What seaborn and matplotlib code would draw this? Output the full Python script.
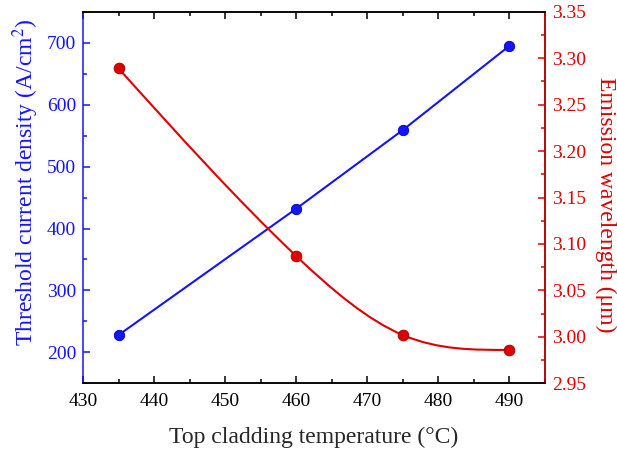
import numpy as np
import pandas as pd
import matplotlib
matplotlib.use("Agg")
import matplotlib.pyplot as plt
from matplotlib.path import Path
from matplotlib.patches import PathPatch
from matplotlib.ticker import MultipleLocator, FormatStrFormatter
import seaborn as sns

# data
temperature = [435, 460, 475, 490]
threshold_density = [228, 432, 559, 695]
wavelength = [3.289, 3.087, 3.002, 2.986]

BLUE = "#1414ff"
RED = "#e00000"


def spline_path(xs, ys):
    # natural cubic spline connector, drawn as bezier segments
    x = np.asarray(xs, float)
    y = np.asarray(ys, float)
    n = len(x)
    h = np.diff(x)
    d = np.diff(y) / h
    A = np.zeros((n, n))
    b = np.zeros(n)
    A[0, 0] = A[-1, -1] = 1.0
    for i in range(1, n - 1):
        A[i, i - 1] = h[i - 1]
        A[i, i] = 2 * (h[i - 1] + h[i])
        A[i, i + 1] = h[i]
        b[i] = 6 * (d[i] - d[i - 1])
    M = np.linalg.solve(A, b)
    slope = np.empty(n)
    slope[:-1] = d - h * (2 * M[:-1] + M[1:]) / 6
    slope[-1] = d[-1] + h[-1] * (M[-2] + 2 * M[-1]) / 6
    verts = [(x[0], y[0])]
    codes = [Path.MOVETO]
    for i in range(n - 1):
        k = h[i] / 3
        verts += [(x[i] + k, y[i] + k * slope[i]),
                  (x[i + 1] - k, y[i + 1] - k * slope[i + 1]),
                  (x[i + 1], y[i + 1])]
        codes += [Path.CURVE4] * 3
    return Path(verts, codes)


sns.set_theme(style="ticks")
plt.rcParams["font.family"] = ["Liberation Serif", "DejaVu Serif"]
plt.rcParams["mathtext.fontset"] = "stix"

df = pd.DataFrame({"T": temperature, "J": threshold_density, "L": wavelength})

fig = plt.figure(figsize=(6.17, 4.51), dpi=100)
ax = fig.add_axes([0.1345, 0.150, 0.7488, 0.824])
ax2 = ax.twinx()

sns.lineplot(data=df, x="T", y="J", ax=ax, color=BLUE, lw=1.5,
             marker="o", markersize=7.5, markeredgecolor="#0000b0",
             markeredgewidth=0.6)

ax2.add_patch(PathPatch(spline_path(df["T"], df["L"]), fill=False,
                        edgecolor=RED, lw=1.5))
sns.scatterplot(data=df, x="T", y="L", ax=ax2, color=RED, s=60,
                edgecolor="#a00000", linewidth=0.6, zorder=3)

ax.set_xlim(430, 495)
ax.set_ylim(150, 750)
ax2.set_ylim(2.95, 3.35)

ax.xaxis.set_major_locator(MultipleLocator(10))
ax.xaxis.set_minor_locator(MultipleLocator(5))
ax.yaxis.set_major_locator(MultipleLocator(100))
ax.yaxis.set_minor_locator(MultipleLocator(50))
ax2.yaxis.set_major_locator(MultipleLocator(0.05))
ax2.yaxis.set_minor_locator(MultipleLocator(0.025))
ax2.yaxis.set_major_formatter(FormatStrFormatter("%.2f"))

ax.tick_params(axis="x", which="both", direction="in", top=True,
               colors="black", labelsize=14, width=1.1, pad=7)
ax.tick_params(axis="x", which="major", length=5)
ax.tick_params(axis="x", which="minor", length=3)
ax.tick_params(axis="y", which="both", direction="in", colors=BLUE,
               labelsize=14, width=1.1, pad=5)
ax.tick_params(axis="y", which="major", length=5)
ax.tick_params(axis="y", which="minor", length=3)
ax2.tick_params(axis="y", which="both", direction="in", colors=RED,
                labelsize=14, width=1.1, pad=5)
ax2.tick_params(axis="y", which="major", length=5)
ax2.tick_params(axis="y", which="minor", length=3)

for a in (ax, ax2):
    for s in a.spines.values():
        s.set_linewidth(1.1)
        s.set_color("black")
ax.spines["left"].set_color(BLUE)
ax2.spines["left"].set_visible(False)
ax2.spines["right"].set_color(RED)

ax.set_xlabel("Top cladding temperature (°C)", fontsize=17, labelpad=12)
ax.set_ylabel("Threshold current density (A/cm$^2$)", fontsize=17,
              color=BLUE)
ax.yaxis.set_label_coords(-0.091, 0.542)
ax2.set_ylabel("Emission wavelength (μm)", fontsize=17, color=RED,
               rotation=270)
ax2.yaxis.set_label_coords(1.108, 0.48)
ax2.yaxis.label.set_verticalalignment("bottom")

fig.savefig("out.png", dpi=100)
